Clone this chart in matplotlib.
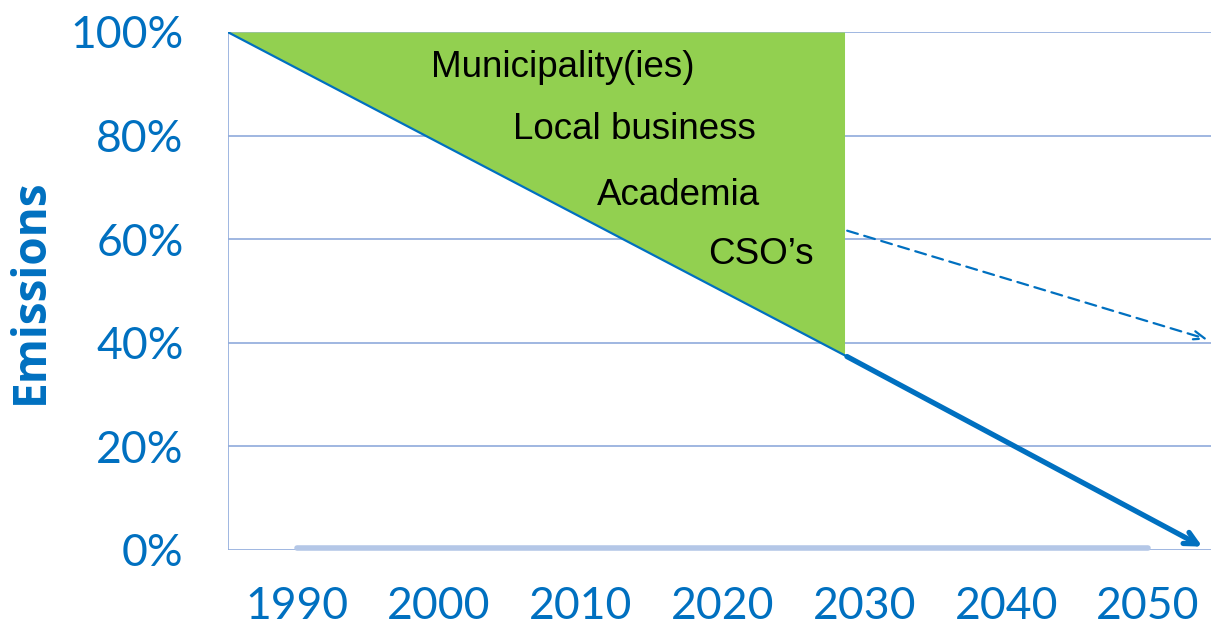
import matplotlib
matplotlib.use('Agg')
import matplotlib.pyplot as plt

# data
years_ticks = [1990, 2000, 2010, 2020, 2030, 2040, 2050]
pct_ticks = [0, 20, 40, 60, 80, 100]
pct_labels = ['0%', '20%', '40%', '60%', '80%', '100%']

path_years = [1985.1, 2028.6, 2054.0]
path_values = [100, 37.6, 0.4]

dash_years = [2028.6, 2054.4]
dash_values = [61.8, 40.5]

base_years = [1990, 2050]
base_values = [0.3, 0.3]

actors = ["Municipality(ies)", "Local business", "Academia", "CSO\u2019s"]
actor_x = [2008.7, 2013.8, 2016.9, 2022.7]
actor_y = [93.1, 81.1, 68.5, 57.0]

blue = '#0070c0'
green = '#92d050'
grid = '#8faadc'

fig = plt.figure(figsize=(12.11, 6.34), dpi=100)
ax = fig.add_axes([228/1211, 1-550/634, 1-228/1211, 518/634])
ax.set_xlim(1985.13, 2054.44)
ax.set_ylim(0, 100)

# green wedge above the path up to 2030-ish
ax.fill_between(path_years[:2], path_values[:2], 100, color=green, lw=0, zorder=2)

ax.plot(path_years[:2], path_values[:2], color=blue, lw=1.6, zorder=4)
ax.annotate('', xy=(path_years[2], path_values[2]), xytext=(path_years[1], path_values[1]),
            arrowprops=dict(arrowstyle='->,head_length=0.9,head_width=0.45', color=blue, lw=3.8),
            zorder=5, annotation_clip=False)
ax.annotate('', xy=(dash_years[1], dash_values[1]), xytext=(dash_years[0], dash_values[0]),
            arrowprops=dict(arrowstyle='->,head_length=0.8,head_width=0.3', color=blue, lw=1.6,
                            linestyle=(0, (5, 3))),
            zorder=5, annotation_clip=False)
ax.plot(base_years, base_values, color='#b4c7e7', lw=4, solid_capstyle='round', zorder=3,
        clip_on=False)

for name, x, y in zip(actors, actor_x, actor_y):
    ax.text(x, y, name, ha='center', va='center', fontsize=26.5, family='Liberation Sans', zorder=6)

for v in pct_ticks:
    ax.axhline(v, color=grid, lw=1.2, zorder=1)
ax.axvline(1985.13, color=grid, lw=1.2, zorder=1)

for s in ax.spines.values():
    s.set_visible(False)
ax.set_xticks(years_ticks)
ax.set_yticks(pct_ticks)
ax.set_yticklabels(pct_labels)
ax.tick_params(length=0, labelsize=32, labelcolor=blue, pad=32)
ax.tick_params(axis='x', pad=26)
for lab in ax.get_xticklabels() + ax.get_yticklabels():
    lab.set_family('Lato')
    lab.set_fontweight('normal')
ax.set_ylabel('Emissions', fontsize=33, fontweight='bold', color=blue, family='Open Sans', labelpad=12)

fig.savefig('out.png', dpi=100)
